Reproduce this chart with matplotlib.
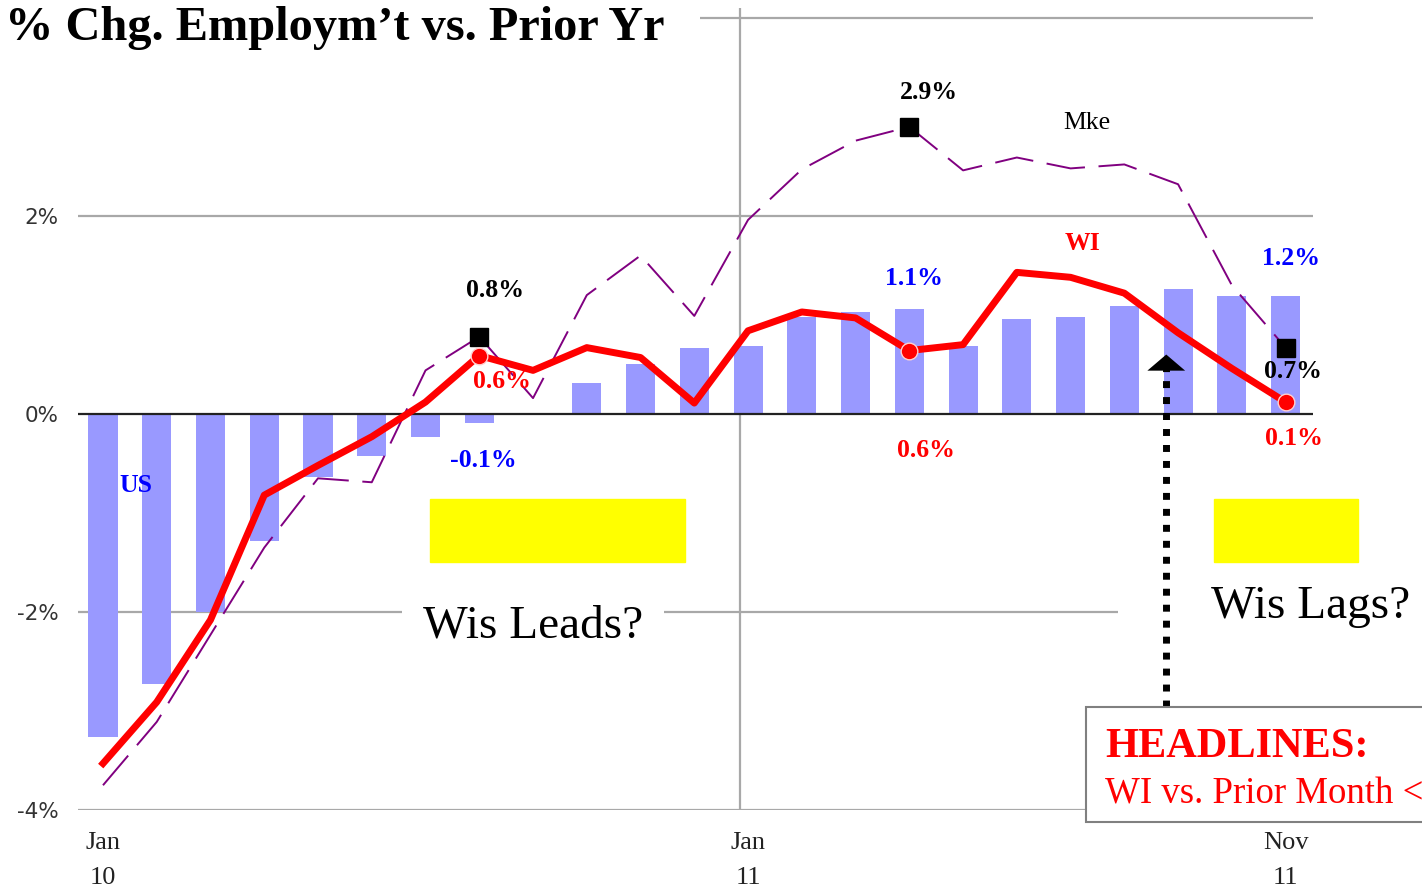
import matplotlib.pyplot as plt
from matplotlib.patches import Rectangle

# monthly % change vs prior year, Jan 2010 .. Nov 2011
months = ["Jan 10", "Feb 10", "Mar 10", "Apr 10", "May 10", "Jun 10", "Jul 10",
          "Aug 10", "Sep 10", "Oct 10", "Nov 10", "Dec 10", "Jan 11", "Feb 11",
          "Mar 11", "Apr 11", "May 11", "Jun 11", "Jul 11", "Aug 11", "Sep 11",
          "Oct 11", "Nov 11"]
us = [-3.26, -2.73, -2.0, -1.28, -0.64, -0.42, -0.23, -0.09, 0.0, 0.31, 0.5, 0.67,
      0.69, 0.98, 1.03, 1.06, 0.69, 0.96, 0.98, 1.09, 1.26, 1.19, 1.19]
wi = [-3.53, -2.91, -2.08, -0.82, -0.52, -0.23, 0.12, 0.59, 0.44, 0.67, 0.57, 0.11,
      0.84, 1.03, 0.97, 0.64, 0.70, 1.43, 1.38, 1.22, 0.82, 0.46, 0.12]
mke = [-3.75, -3.11, -2.23, -1.35, -0.65, -0.69, 0.44, 0.78, 0.16, 1.2, 1.6, 0.99,
       1.96, 2.47, 2.76, 2.9, 2.46, 2.59, 2.48, 2.52, 2.32, 1.30, 0.67]

tick_idx = [0, 12, 22]
tick_labels = ["Jan\n10", "Jan\n11", "Nov\n11"]
y_ticks = [-4, -2, 0, 2]
y_labels = ["-4%", "-2%", "0%", "2%"]
marked = [7, 15, 22]   # months with value labels

SERIF = "Liberation Serif"

fig = plt.figure(figsize=(14.22, 8.89), dpi=100)
ax = fig.add_axes([78 / 1422, 79 / 889, 1235 / 1422, 802 / 889])
x = list(range(len(months)))

ax.set_xlim(-0.465, 22.51)
ax.set_ylim(-4, 4.1)

# grid
grey = "#a8a8a8"
for g in [2, -4]:
    ax.axhline(g, color=grey, lw=1.6, zorder=1)
ax.hlines(-2, -0.465, 18.88, color=grey, lw=1.6, zorder=1)
ax.hlines(4, 11.1, 22.51, color=grey, lw=1.6, zorder=1, clip_on=False)
ax.axvline(11.85, color=grey, lw=1.6, zorder=1)

ax.bar(x, us, width=0.54, color="#9999ff", zorder=2)
ax.axhline(0, color="#222222", lw=1.6, zorder=3)

ax.plot(x, mke, color="#800080", lw=1.4, dashes=(20, 7), zorder=4)
ax.plot(x, wi, color="#ff0000", lw=5, zorder=5, solid_joinstyle="round")

ax.plot([x[i] for i in marked], [mke[i] for i in marked], "s", color="black",
        ms=13, zorder=6)
ax.plot([x[i] for i in marked], [wi[i] for i in marked], "o", color="#ff0000",
        mec="#ffd0d0", mew=1, ms=12, zorder=6)

lab = dict(family=SERIF, fontweight="bold", fontsize=18.5, ha="center",
           va="center", zorder=8)
# Mke labels
for i, off in zip(marked, [(11.5, 33), (14.4, 25), (5, -17)]):
    ax.annotate(f"{mke[i]:.1f}%", (x[i], mke[i]), xytext=off,
                textcoords="offset points", color="black", **lab)
# WI labels
for i, off in zip(marked, [(16, -19), (12, -72), (6, -26)]):
    ax.annotate(f"{wi[i]:.1f}%", (x[i], wi[i]), xytext=off,
                textcoords="offset points", color="#ff0000", **lab)
# US labels
for i, off in [(7, (3, -27)), (15, (3, 22)), (22, (4, 27))]:
    ax.annotate(f"{us[i]:.1f}%", (x[i], us[i]), xytext=off,
                textcoords="offset points", color="#0000ff", **lab)

ax.text(0.61, -0.72, "US", color="#0000ff", **lab)
ax.text(18.23, 1.72, "WI", color="#ff0000", **lab)
ax.text(18.31, 2.94, "Mke", color="black", family=SERIF, fontsize=18.5,
        ha="center", va="center", zorder=8)

# yellow boxes and questions
ax.add_patch(Rectangle((6.08, -1.5), 4.75, 0.64, color="#ffff00", zorder=2))
ax.add_patch(Rectangle((20.67, -1.5), 2.68, 0.64, color="#ffff00", zorder=2,
                       clip_on=False))
ax.text(8.0, -2.26, "Wis Leads?", family=SERIF, fontsize=34, ha="center",
        va="baseline", zorder=7,
        bbox=dict(boxstyle="square,pad=0.45", fc="white", ec="none"))
ax.text(22.46, -2.06, "Wis Lags?", family=SERIF, fontsize=34, ha="center",
        va="baseline", zorder=7, clip_on=False)

# dotted arrow up to the Sep 11 point
ax.plot([19.78, 19.78], [-2.96, 0.45], color="black", lw=5,
        dashes=(1, 1.3), dash_capstyle="butt", zorder=7, clip_on=False)
ax.annotate("", xy=(19.78, 0.6), xytext=(19.78, 0.3),
            arrowprops=dict(arrowstyle="-|>,head_length=0.58,head_width=0.68",
                            color="black", lw=0, shrinkA=0, shrinkB=0,
                            mutation_scale=20), zorder=7)

# headline box
ax.add_patch(Rectangle((18.29, -4.12), 7, 1.16, fc="white", ec="#808080",
                       lw=1.5, zorder=9, clip_on=False))
ax.text(18.64, -3.46, "HEADLINES:", family=SERIF, fontweight="bold",
        fontsize=30.5, color="#ff0000", va="baseline", zorder=10, clip_on=False)
ax.text(18.64, -3.93, "WI vs. Prior Month <", family=SERIF, fontsize=26.5,
        color="#ff0000", va="baseline", zorder=10, clip_on=False)

# axes
for s in ax.spines.values():
    s.set_visible(False)
ax.set_yticks(y_ticks)
ax.set_yticklabels(y_labels, fontsize=15.5, color="#333333")
ax.set_xticks(tick_idx)
ax.set_xticklabels(tick_labels, family=SERIF, fontsize=19, linespacing=1.75,
                   color="#222222")
ax.tick_params(length=0)
ax.tick_params(axis="y", pad=14)
ax.tick_params(axis="x", pad=16)

fig.text(5 / 1422, 1 - 28 / 889, "% Chg. Employm\u2019t vs. Prior Yr", family=SERIF,
         fontweight="bold", fontsize=34.8, ha="left", va="center")

fig.savefig("out.png", dpi=100)
